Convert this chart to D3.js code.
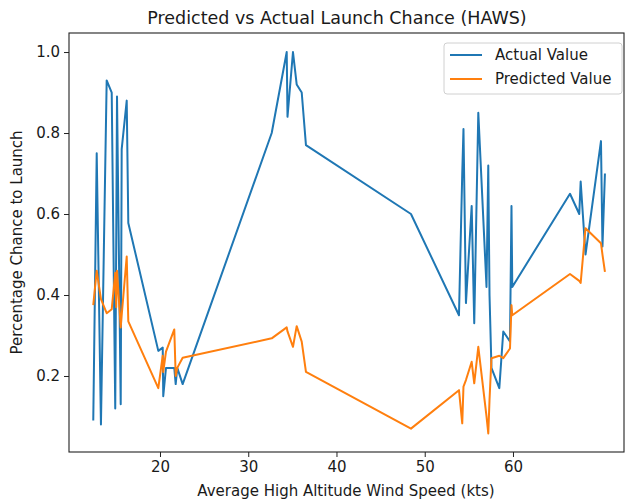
<!DOCTYPE html>
<html>
<head>
<meta charset="utf-8">
<script src="https://cdn.jsdelivr.net/npm/d3@7"></script>
<style>
  body { margin: 0; background: #fff; }
  text { font-family: "DejaVu Sans", sans-serif; fill: #1a1a1a; }
</style>
</head>
<body>
<div id="chart"></div>
<script>
// wind speed (kts) of each sample, sorted
const windSpeed = [12.44, 12.83, 13.31, 13.96, 14.53, 14.93, 15.04, 15.13, 15.55, 15.66,
  16.23, 16.41, 19.81, 20.31, 20.37, 20.68, 21.62, 21.78, 21.96, 22.57,
  32.66, 34.36, 34.45, 35.07, 35.49, 36.06, 36.54, 48.44, 53.88, 54.25,
  54.39, 54.67, 55.32, 55.61, 56.07, 57.00, 57.20, 57.34, 57.56, 58.45,
  58.90, 59.66, 59.83, 59.92, 66.46, 67.51, 67.67, 68.22, 69.97, 70.14, 70.42];

const actualValue = [0.09, 0.75, 0.08, 0.93, 0.90, 0.12, 0.53, 0.89, 0.13, 0.76,
  0.88, 0.578, 0.262, 0.27, 0.15, 0.22, 0.22, 0.18, 0.22, 0.18,
  0.80, 1.0, 0.84, 1.0, 0.92, 0.90, 0.77, 0.60, 0.35, 0.70,
  0.81, 0.38, 0.62, 0.33, 0.85, 0.42, 0.72, 0.40, 0.22, 0.17,
  0.31, 0.285, 0.62, 0.42, 0.65, 0.60, 0.68, 0.50, 0.78, 0.52, 0.70];

const predictedValue = [0.375, 0.46, 0.39, 0.355, 0.365, 0.455, 0.37, 0.46, 0.32, 0.35,
  0.495, 0.335, 0.17, 0.25, 0.21, 0.26, 0.315, 0.20, 0.22, 0.245,
  0.293, 0.32, 0.31, 0.272, 0.323, 0.285, 0.21, 0.07, 0.165, 0.083,
  0.174, 0.19, 0.235, 0.182, 0.272, 0.10, 0.058, 0.14, 0.244, 0.25,
  0.244, 0.268, 0.375, 0.35, 0.452, 0.435, 0.43, 0.565, 0.528, 0.50, 0.457];

const xTicks = [20, 30, 40, 50, 60];
const yTicks = [0.2, 0.4, 0.6, 0.8, 1.0];
const seriesNames = ["Actual Value", "Predicted Value"];
const seriesColors = ["#1f77b4", "#ff7f0e"];

const W = 627, H = 502;
const margin = {top: 33, right: 3, bottom: 50, left: 69};
const width = W - margin.left - margin.right,
      height = H - margin.top - margin.bottom;

const svg = d3.select("#chart")
  .append("svg")
    .attr("width", W)
    .attr("height", H);

const g = svg.append("g")
    .attr("transform", `translate(${margin.left},${margin.top})`);

const x = d3.scaleLinear().domain([9.69, 72.58]).range([0, width]);
const y = d3.scaleLinear().domain([0.0123, 1.047]).range([height, 0]);

// x axis
const xAxis = g.append("g")
    .attr("transform", `translate(0,${height})`)
    .call(d3.axisBottom(x).tickValues(xTicks).tickFormat(d3.format("d")).tickSize(5).tickPadding(4));
// y axis
const yAxis = g.append("g")
    .call(d3.axisLeft(y).tickValues(yTicks).tickFormat(d3.format(".1f")).tickSize(5).tickPadding(4));

[xAxis, yAxis].forEach(a => {
  a.select(".domain").remove();
  a.selectAll("line").attr("stroke", "#222");
  a.selectAll("text").attr("font-size", 15).attr("font-family", "DejaVu Sans").attr("fill", "#1a1a1a");
});

// lines
const data = windSpeed.map((w, i) => ({w: w, a: actualValue[i], p: predictedValue[i]}));
[["a", 0], ["p", 1]].forEach(([k, i]) => {
  g.append("path")
    .datum(data)
    .attr("fill", "none")
    .attr("stroke", seriesColors[i])
    .attr("stroke-width", 2)
    .attr("stroke-linejoin", "round")
    .attr("d", d3.line().x(d => x(d.w)).y(d => y(d[k])));
});

// frame
g.append("rect")
  .attr("width", width).attr("height", height)
  .attr("fill", "none").attr("stroke", "#222").attr("stroke-width", 1.1);

// title and axis labels
svg.append("text")
  .attr("x", 337).attr("y", 24)
  .attr("text-anchor", "middle").attr("font-size", 17.5)
  .text("Predicted vs Actual Launch Chance (HAWS)");

svg.append("text")
  .attr("x", 346).attr("y", 496)
  .attr("text-anchor", "middle").attr("font-size", 15)
  .text("Average High Altitude Wind Speed (kts)");

svg.append("text")
  .attr("transform", `translate(22,${margin.top + height / 2}) rotate(-90)`)
  .attr("text-anchor", "middle").attr("font-size", 15)
  .text("Percentage Chance to Launch");

// legend
const lg = svg.append("g").attr("transform", "translate(444,43)");
lg.append("rect")
  .attr("width", 178).attr("height", 51).attr("rx", 3)
  .attr("fill", "#fff").attr("fill-opacity", 0.8)
  .attr("stroke", "#d0d0d0");
seriesNames.forEach((name, i) => {
  lg.append("line")
    .attr("x1", 6).attr("x2", 38)
    .attr("y1", 12 + i * 24).attr("y2", 12 + i * 24)
    .attr("stroke", seriesColors[i]).attr("stroke-width", 2);
  lg.append("text")
    .attr("x", 51).attr("y", 12 + i * 24)
    .attr("dy", "0.35em").attr("font-size", 15)
    .text(name);
});
</script>
</body>
</html>
